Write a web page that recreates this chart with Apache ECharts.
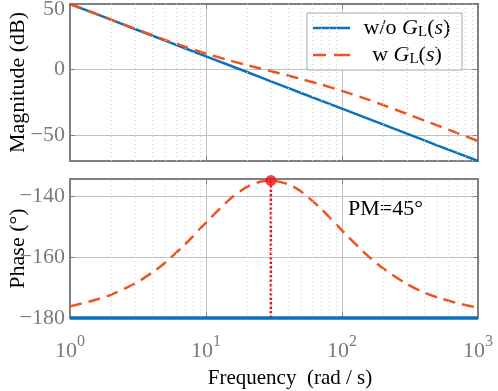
<!DOCTYPE html>
<html>
<head>
<meta charset="utf-8">
<script src="https://cdn.jsdelivr.net/npm/echarts@6/dist/echarts.min.js"></script>
<style>
  html, body { margin: 0; padding: 0; background: #fff; }
  #chart { width: 498px; height: 391px; }
</style>
</head>
<body>
<div id="chart"></div>
<script>
// frequencies (rad/s) read along the log axis
const freq = [1, 1.5, 2, 3, 4, 5, 7, 10, 15, 20, 25, 30, 40, 50, 70, 100, 150, 200, 300, 400, 500, 700, 1000];
// magnitude (dB)
const magNoLead = [50, 43.0, 38.0, 30.9, 25.9, 22.0, 16.2, 10, 3.0, -2.0, -5.9, -9.1, -14.1, -18.0, -23.8, -30, -37.0, -42.0, -49.1, -54.1, -58.0, -63.8, -70];
const magLead = [50.0, 43.1, 38.1, 31.1, 26.3, 22.6, 17.4, 12.1, 6.8, 3.3, 0.7, -1.4, -4.6, -7.3, -11.5, -16.4, -22.5, -27.2, -34.0, -38.9, -42.7, -48.5, -54.7];
// phase (deg)
const phaseNoLead = [-180, -180, -180, -180, -180, -180, -180, -180, -180, -180, -180, -180, -180, -180, -180, -180, -180, -180, -180, -180, -180, -180, -180];
const phaseLead = [-176.2, -174.2, -172.4, -168.7, -165.2, -161.9, -155.9, -148.8, -141.1, -137.1, -135.4, -135.0, -136.2, -138.6, -144.2, -151.3, -159.1, -163.7, -168.9, -171.6, -173.2, -175.1, -176.6];
// phase margin peak
const peakFreq = 30;
const peakPhase = -135;
const pmText = 'PM=45°';
// ticks
const magTicks = [-50, 0, 50];
const phaseTicks = [-180, -160, -140];
const minorFreqs = [2, 3, 4, 5, 6, 7, 8, 9, 20, 30, 40, 50, 60, 70, 80, 90, 200, 300, 400, 500, 600, 700, 800, 900];

const FONT = 'Liberation Serif';
const AXIS_GREY = '#808080';
const LABEL_GREY = '#7a7a7a';
const GRID_GREY = '#c2c2c2';
const BLUE = '#0a72bd';
const ORANGE = '#ee5420';
const RED = '#ee1111';

// legend glyphs: a solid stroke and a two-dash stroke
const ICON_SOLID = 'path://M0,0H37V2.5H0Z';
const ICON_DASH = 'path://M0,0H13V2.5H0Z M21,0H37V2.5H21Z';

const pair = (ys) => freq.map((f, i) => [f, ys[i]]);
const fmtNum = (v) => v < 0 ? '\u2212' + Math.abs(v) : String(v);

const axisLine = { show: true, onZero: false, lineStyle: { color: AXIS_GREY, width: 2 } };
const tick = { show: true, inside: true, length: 5, lineStyle: { color: AXIS_GREY, width: 1 } };

function xAxes(gridIndex, withLabels) {
    const base = { type: 'log', logBase: 10, min: 1, max: 1000, gridIndex: gridIndex, axisLine: axisLine, axisTick: tick };
    return [
        Object.assign({}, base, {
            position: 'bottom',
            splitLine: { show: true, lineStyle: { color: GRID_GREY, width: 1 } },
            axisLabel: withLabels ? {
                show: true, margin: 22,
                formatter: v => '{b|10}{s|' + Math.round(Math.log10(v)) + '}',
                rich: {
                    b: { fontFamily: FONT, fontSize: 22, color: LABEL_GREY, verticalAlign: 'bottom', lineHeight: 22 },
                    s: { fontFamily: FONT, fontSize: 16, color: LABEL_GREY, verticalAlign: 'bottom', lineHeight: 16, padding: [0, 0, 12, 0] }
                }
            } : { show: false },
            name: withLabels ? 'Frequency  (rad / s)' : '',
            nameLocation: 'middle', nameGap: 50, nameMoveOverlap: false,
            nameTextStyle: { fontFamily: FONT, fontSize: 21, color: '#000', padding: [0, 0, 0, 32] }
        }),
        Object.assign({}, base, { position: 'top', splitLine: { show: false }, axisLabel: { show: false } })
    ];
}

function yAxes(gridIndex, min, max, ticks, name) {
    const base = { type: 'value', min: min, max: max, gridIndex: gridIndex, axisLine: axisLine };
    return [
        Object.assign({}, base, {
            position: 'left',
            axisTick: Object.assign({}, tick, { customValues: ticks }),
            splitLine: { show: true, lineStyle: { color: GRID_GREY, width: 1 } },
            axisLabel: {
                show: true, customValues: ticks, margin: 5,
                // the label sitting on the top edge is nudged down, as in the figure
                formatter: v => v === max ? '{top|' + fmtNum(v) + '}' : fmtNum(v),
                fontFamily: FONT, fontSize: 22, color: LABEL_GREY,
                rich: { top: { fontFamily: FONT, fontSize: 22, color: LABEL_GREY, padding: [10, 0, 0, 0] } }
            },
            name: name, nameLocation: 'middle', nameGap: 41, nameMoveOverlap: false,
            nameTextStyle: { fontFamily: FONT, fontSize: 22, color: '#000' }
        }),
        Object.assign({}, base, {
            position: 'right',
            axisTick: Object.assign({}, tick, { customValues: ticks }),
            splitLine: { show: false },
            axisLabel: { show: false }
        })
    ];
}

function minorGrid(xi, yi) {
    return {
        type: 'line', data: [], xAxisIndex: xi, yAxisIndex: yi, z: 1, silent: true,
        markLine: {
            silent: true, symbol: ['none', 'none'], label: { show: false }, animation: false,
            lineStyle: { type: [1, 3], color: '#d0d0d0', width: 1 },
            data: minorFreqs.map(f => ({ xAxis: f }))
        }
    };
}

const legendRich = {
    n: { fontFamily: FONT, fontSize: 22, color: '#000', align: 'center' },
    i: { fontFamily: FONT, fontSize: 22, fontStyle: 'italic', color: '#000', align: 'center' },
    sub: { fontFamily: FONT, fontSize: 15, color: '#000', align: 'center', verticalAlign: 'bottom', lineHeight: 15 }
};

const chart = echarts.init(document.getElementById('chart'));
chart.setOption({
    animation: false,
    backgroundColor: '#fff',
    grid: [
        { left: 70, top: 4, width: 408, height: 157, containLabel: false, outerBoundsMode: 'none' },
        { left: 70, top: 179, width: 408, height: 139, containLabel: false, outerBoundsMode: 'none' }
    ],
    xAxis: xAxes(0, false).concat(xAxes(1, true)),
    yAxis: yAxes(0, -70, 50, magTicks, 'Magnitude (dB)').concat(yAxes(1, -180, -134.5, phaseTicks, 'Phase (°)')),
    legend: {
        data: [
            { name: 'w/o GL(s)', icon: ICON_SOLID, itemStyle: { color: BLUE } },
            { name: 'w GL(s)', icon: ICON_DASH, itemStyle: { color: ORANGE } }
        ],
        orient: 'vertical', left: 307, top: 13,
        itemWidth: 37, itemHeight: 12, itemGap: 3,
        padding: [3, 3, 3, 6],
        backgroundColor: '#fff', borderColor: '#a8a8a8', borderWidth: 1, borderRadius: 0,
        textStyle: { width: 104, lineHeight: 24, rich: legendRich },
        formatter: name => (name === 'w/o GL(s)' ? '{n|w/o }' : '{n|w }') + '{i|G}{sub|L}{n|(}{i|s}{n|)}'
    },
    graphic: [
        { type: 'text', left: 348, top: 198, style: { text: pmText, font: '22px "Liberation Serif"', fill: '#000' } }
    ],
    series: [
        minorGrid(0, 0),
        minorGrid(2, 2),
        {
            name: 'w/o GL(s)', type: 'line', xAxisIndex: 0, yAxisIndex: 0, data: pair(magNoLead),
            symbol: 'none', lineStyle: { color: BLUE, width: 2.5 }, itemStyle: { color: BLUE }, z: 3
        },
        {
            name: 'w GL(s)', type: 'line', xAxisIndex: 0, yAxisIndex: 0, data: pair(magLead), smooth: 0.3,
            symbol: 'none', lineStyle: { color: ORANGE, width: 2.5, type: [12, 7] }, itemStyle: { color: ORANGE }, z: 4
        },
        {
            name: 'w/o GL(s)', type: 'line', xAxisIndex: 2, yAxisIndex: 2, data: pair(phaseNoLead), clip: false,
            symbol: 'none', lineStyle: { color: BLUE, width: 3.5 }, itemStyle: { color: BLUE }, z: 5
        },
        {
            name: 'w GL(s)', type: 'line', xAxisIndex: 2, yAxisIndex: 2, data: pair(phaseLead), smooth: 0.3,
            symbol: 'none', lineStyle: { color: ORANGE, width: 2.5, type: [12, 7] }, itemStyle: { color: ORANGE }, z: 4
        },
        {
            type: 'line', xAxisIndex: 2, yAxisIndex: 2, data: [[peakFreq, -180], [peakFreq, peakPhase]],
            symbol: 'none', lineStyle: { color: RED, width: 2.5, type: [2.5, 2] }, z: 4, silent: true
        },
        {
            type: 'scatter', xAxisIndex: 2, yAxisIndex: 2, data: [[peakFreq, peakPhase]], clip: false,
            symbol: 'circle', symbolSize: 11, itemStyle: { color: RED }, z: 6, silent: true
        }
    ]
});
</script>
</body>
</html>
